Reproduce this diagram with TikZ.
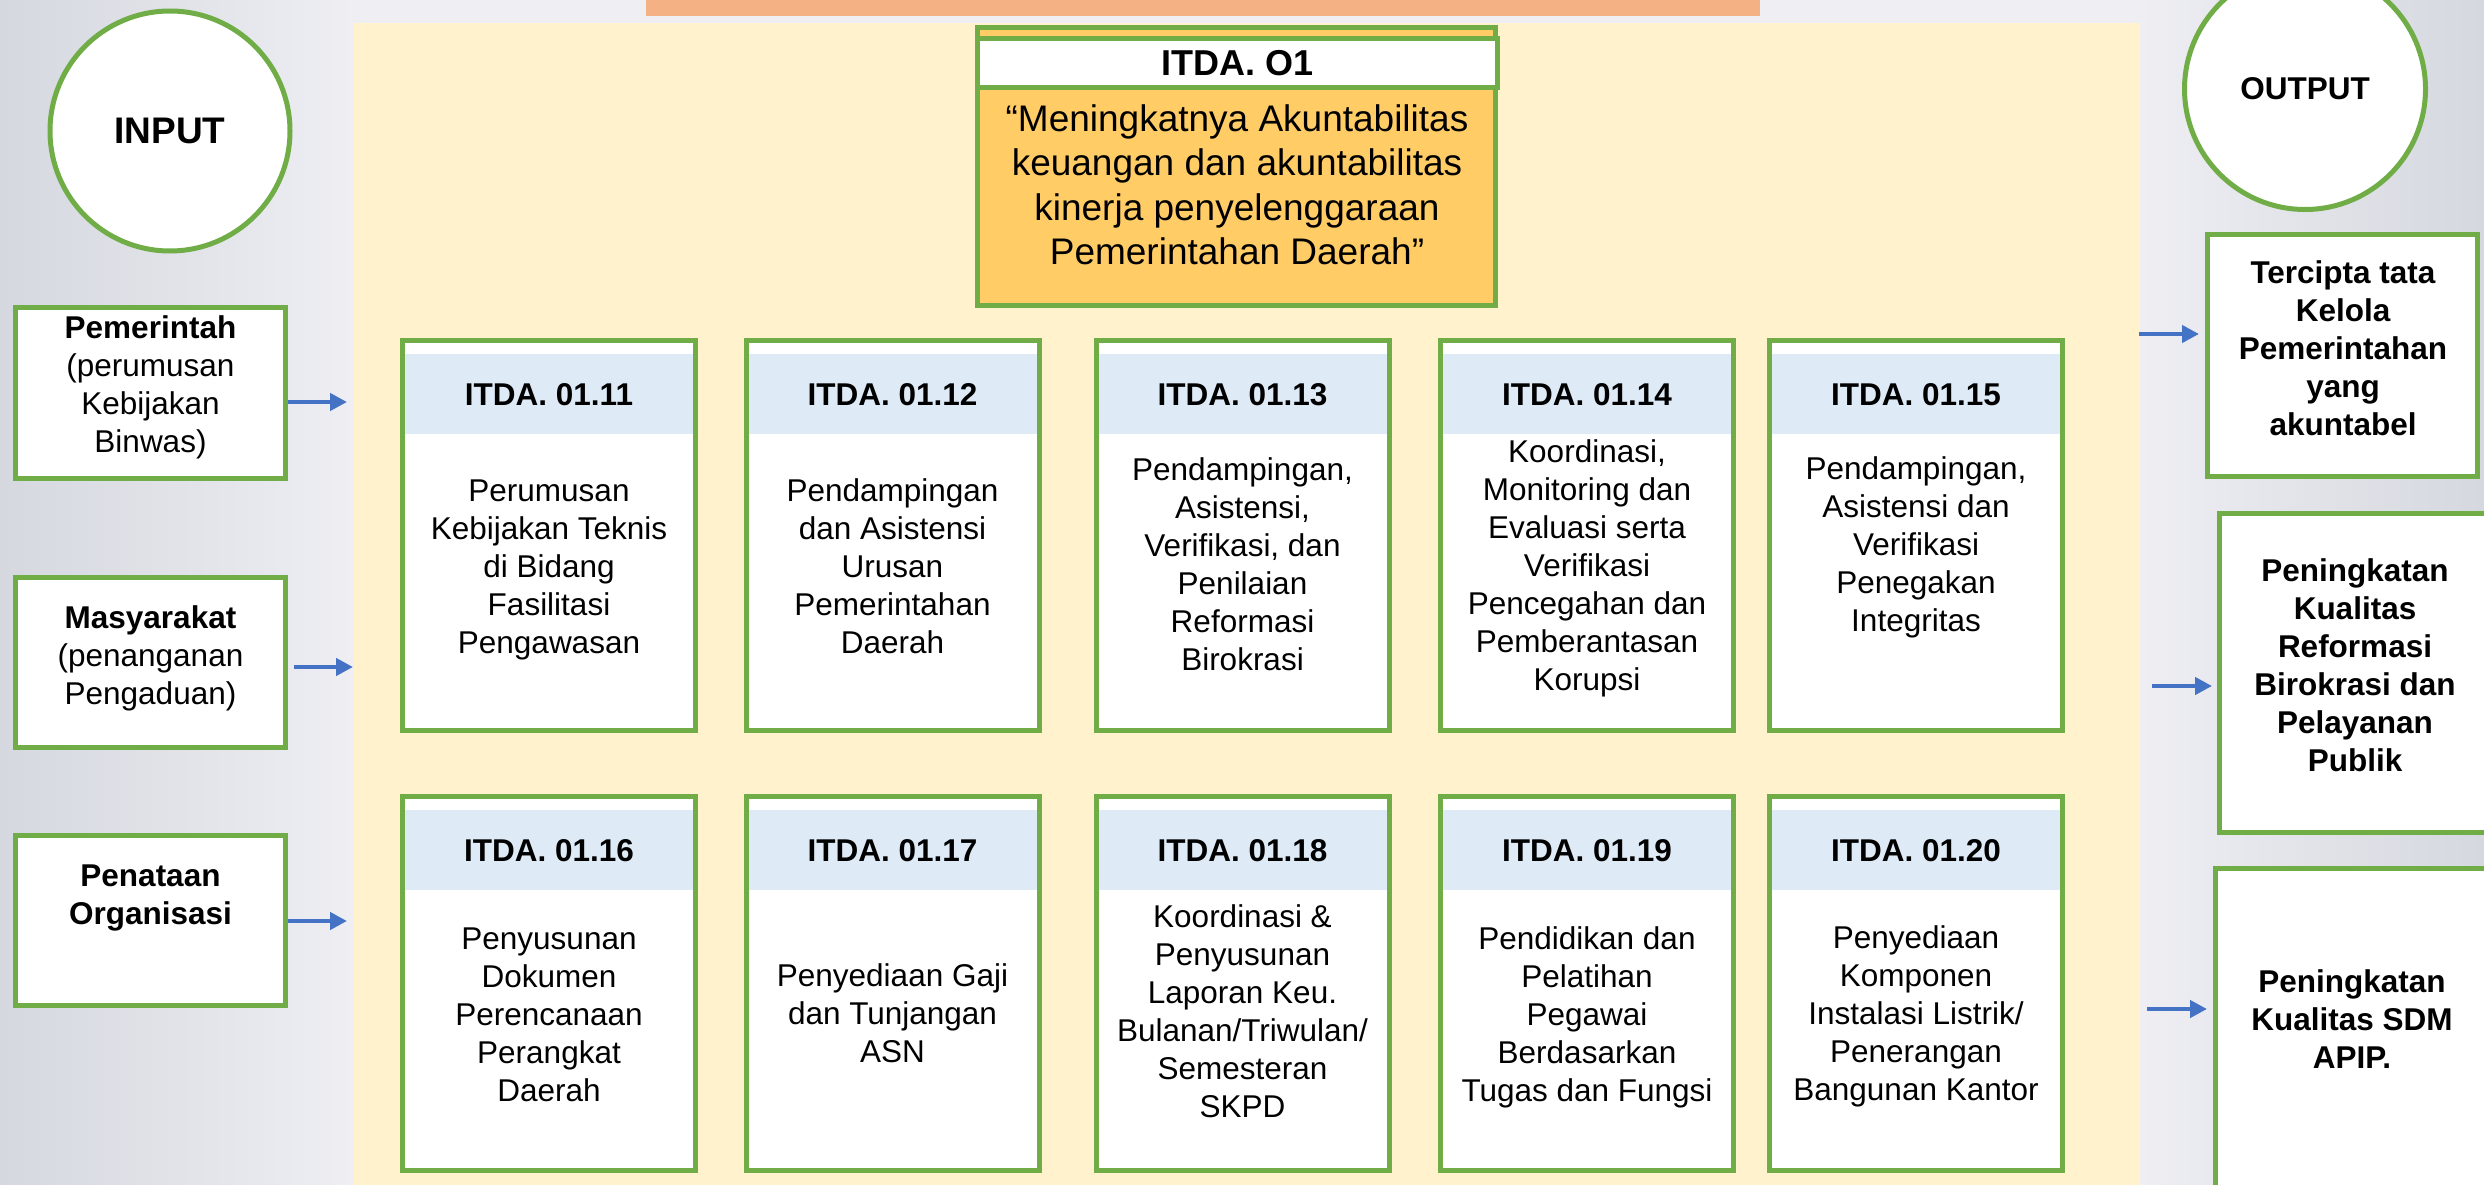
\documentclass[tikz,border=0pt]{standalone}
\usepackage{fontspec}
\setmainfont{Liberation Sans}
\usetikzlibrary{arrows.meta}

\definecolor{grn}{HTML}{70AD47}
\definecolor{arrowblue}{HTML}{4472C4}
\definecolor{headblue}{HTML}{DEEBF7}
\definecolor{panel}{HTML}{FFF2CC}
\definecolor{salmon}{HTML}{F4B183}
\definecolor{gold}{HTML}{FFCC66}
\definecolor{bgedge}{HTML}{D5D8DF}
\definecolor{bgmid}{HTML}{EEEEF3}

% one activity card: name, x, y of centre, height style, code, y of text top, description
\newcommand\activity[7]{%
  \node[gbox, minimum width=293pt, #4] (#1) at (#2,#3) {};
  \node[band, anchor=north] (#1-head) at ([yshift=-16pt]#1.north) {#5};
  \node[body, anchor=north] (#1-text) at (#2,#6) {\strut#7\strut};
}

\begin{document}
\begin{tikzpicture}[x=1pt,y=-1pt,
  gbox/.style={draw=grn, line width=5pt, fill=white, inner sep=0pt},
  rowone/.style={minimum height=390pt},
  rowtwo/.style={minimum height=374pt},
  band/.style={fill=headblue, inner sep=0pt, minimum width=288pt, minimum height=80pt,
    font=\fontsize{31.5}{38}\selectfont\bfseries},
  body/.style={align=center, inner sep=0pt, font=\fontsize{31.5}{38}\selectfont},
  boldbody/.style={body, font=\fontsize{31.5}{38}\selectfont\bfseries},
  flow/.style={draw=arrowblue, line width=4.5pt, -{Triangle[length=17pt,width=17pt]}},
]
\useasboundingbox (0,0) rectangle (2484,1185);
\clip (0,0) rectangle (2484,1185);

% backdrop
\fill[bgmid] (0,0) rectangle (2484,1185);
\shade[left color=bgedge, right color=bgmid] (0,0) rectangle (354,1185);
\shade[left color=bgmid, right color=bgedge] (2140,0) rectangle (2484,1185);
\fill[panel] (354,23) rectangle (2140,1185);
\fill[salmon] (646,0) rectangle (1760,16);

% input / output circles
\node[gbox, circle, minimum size=240pt] (inp) at (170,131) {\fontsize{37}{44}\selectfont\bfseries INPUT};
\node[gbox, circle, minimum size=241pt] (outp) at (2305,89) {\fontsize{31.5}{38}\selectfont\bfseries OUTPUT};

% goal box
\node[gbox, fill=gold, minimum width=518pt, minimum height=278pt] (goal) at (1236.5,166.5) {};
\node[gbox, minimum width=520pt, minimum height=49pt] (goalhead) at (1237.5,63)
  {\fontsize{36}{43}\selectfont\bfseries ITDA. O1};
\node[align=center, inner sep=0pt, font=\fontsize{37}{44.5}\selectfont, anchor=north] (goaltext) at (1237,100)
  {\strut“Meningkatnya Akuntabilitas\\keuangan dan akuntabilitas\\kinerja penyelenggaraan\\Pemerintahan Daerah”\strut};

% input boxes
\node[gbox, minimum width=270pt, minimum height=171pt] (pem) at (150.5,393) {};
\node[body, anchor=north] (pem-text) at (150.5,311.7)
  {\strut\textbf{Pemerintah}\\(perumusan\\Kebijakan\\Binwas)\strut};
\node[gbox, minimum width=270pt, minimum height=170pt] (mas) at (150.5,662.5) {};
\node[body, anchor=north] (mas-text) at (150.5,601.7)
  {\strut\textbf{Masyarakat}\\(penanganan\\Pengaduan)\strut};
\node[gbox, minimum width=270pt, minimum height=170pt] (pen) at (150.5,920.5) {};
\node[boldbody, anchor=north] (pen-text) at (150.5,859.7)
  {\strut Penataan\\Organisasi\strut};

% output boxes
\node[gbox, minimum width=270pt, minimum height=242pt] (out1) at (2342.5,355.5) {};
\node[boldbody, anchor=north] (out1-text) at (2343,256.7)
  {\strut Tercipta tata\\Kelola\\Pemerintahan\\yang\\akuntabel\strut};
\node[gbox, minimum width=271pt, minimum height=319pt] (out2) at (2355,673) {};
\node[boldbody, anchor=north] (out2-text) at (2355,554.7)
  {\strut Peningkatan\\Kualitas\\Reformasi\\Birokrasi dan\\Pelayanan\\Publik\strut};
\node[gbox, minimum width=273pt, minimum height=329pt] (out3) at (2352,1033) {};
\node[boldbody, anchor=north] (out3-text) at (2352,965.7)
  {\strut Peningkatan\\Kualitas SDM\\APIP.\strut};

% activity cards, first row
\activity{a11}{549}{535.5}{rowone}{ITDA. 01.11}{474.7}
  {Perumusan\\Kebijakan Teknis\\di Bidang\\Fasilitasi\\Pengawasan}
\activity{a12}{892.5}{535.5}{rowone}{ITDA. 01.12}{474.7}
  {Pendampingan\\dan Asistensi\\Urusan\\Pemerintahan\\Daerah}
\activity{a13}{1242.5}{535.5}{rowone}{ITDA. 01.13}{453.7}
  {Pendampingan,\\Asistensi,\\Verifikasi, dan\\Penilaian\\Reformasi\\Birokrasi}
\activity{a14}{1587}{535.5}{rowone}{ITDA. 01.14}{435.7}
  {Koordinasi,\\Monitoring dan\\Evaluasi serta\\Verifikasi\\Pencegahan dan\\Pemberantasan\\Korupsi}
\activity{a15}{1916}{535.5}{rowone}{ITDA. 01.15}{452.7}
  {Pendampingan,\\Asistensi dan\\Verifikasi\\Penegakan\\Integritas}

% activity cards, second row
\activity{a16}{549}{983.5}{rowtwo}{ITDA. 01.16}{922.7}
  {Penyusunan\\Dokumen\\Perencanaan\\Perangkat\\Daerah}
\activity{a17}{892.5}{983.5}{rowtwo}{ITDA. 01.17}{959.7}
  {Penyediaan Gaji\\dan Tunjangan\\ASN}
\activity{a18}{1242.5}{983.5}{rowtwo}{ITDA. 01.18}{900.7}
  {Koordinasi \&\\Penyusunan\\Laporan Keu.\\Bulanan/Triwulan/\\Semesteran\\SKPD}
\activity{a19}{1587}{983.5}{rowtwo}{ITDA. 01.19}{922.7}
  {Pendidikan dan\\Pelatihan\\Pegawai\\Berdasarkan\\Tugas dan Fungsi}
\activity{a20}{1916}{983.5}{rowtwo}{ITDA. 01.20}{921.7}
  {Penyediaan\\Komponen\\Instalasi Listrik/\\Penerangan\\Bangunan Kantor}

% flow arrows into the panel
\coordinate (inA) at (347,402);
\coordinate (inB) at (353,667);
\coordinate (inC) at (347,921);
\draw[flow] (inA -| pem.east) -- (inA);
\draw[flow] ([xshift=6pt]inB -| mas.east) -- (inB);
\draw[flow] (inC -| pen.east) -- (inC);

% flow arrows to the outputs
\coordinate (outA) at (2139,334);
\coordinate (outB) at (2152,686);
\coordinate (outC) at (2147,1009);
\draw[flow] (outA) -- ([xshift=-6pt]outA -| out1.west);
\draw[flow] (outB) -- ([xshift=-5pt]outB -| out2.west);
\draw[flow] (outC) -- ([xshift=-6pt]outC -| out3.west);
\end{tikzpicture}
\end{document}
